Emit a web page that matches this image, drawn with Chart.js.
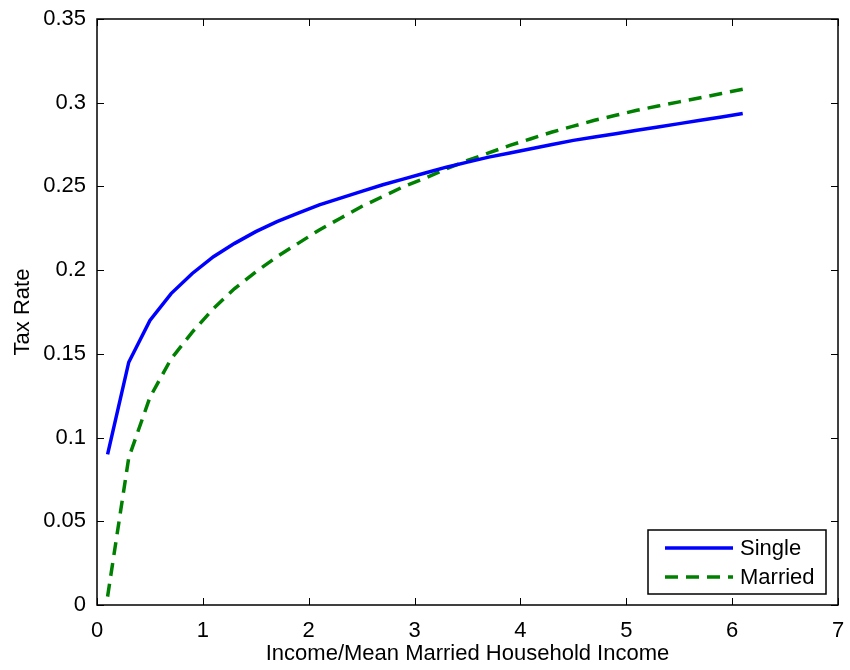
<!DOCTYPE html>
<html>
<head>
<meta charset="utf-8">
<title>Tax Rate</title>
<script src="https://cdn.jsdelivr.net/npm/chart.js@4/dist/chart.umd.min.js"></script>
<style>
  html, body { margin: 0; padding: 0; background: #fff; }
  #chart-canvas { display: block; }
</style>
</head>
<body>
<canvas id="chart-canvas" width="850" height="670"></canvas>
<script>
// income as a multiple of mean married household income
const incomeRatio = [0.1, 0.3, 0.5, 0.7, 0.9, 1.1, 1.3, 1.5, 1.7, 1.9, 2.1, 2.3, 2.5, 2.7, 2.9, 3.1,
  3.3, 3.5, 3.7, 3.9, 4.1, 4.3, 4.5, 4.7, 4.9, 5.1, 5.3, 5.5, 5.7, 5.9, 6.1]

const singleRate = [0.090, 0.145, 0.170, 0.186, 0.198, 0.208, 0.216, 0.223, 0.229, 0.234, 0.239,
  0.243, 0.247, 0.251, 0.2545, 0.258, 0.2615, 0.2645, 0.2675, 0.270, 0.2725, 0.275, 0.2775, 0.2795,
  0.2815, 0.2835, 0.2855, 0.2875, 0.2895, 0.2915, 0.2935]

const marriedRate = [0.005, 0.088, 0.124, 0.147, 0.163, 0.177, 0.189, 0.199, 0.208, 0.216, 0.224,
  0.231, 0.238, 0.244, 0.250, 0.255, 0.2605, 0.2655, 0.270, 0.2745, 0.2785, 0.2825, 0.286, 0.2895,
  0.2925, 0.2955, 0.298, 0.3005, 0.303, 0.3055, 0.308]

const xTicks = [0, 1, 2, 3, 4, 5, 6, 7]
const yTicks = [0, 0.05, 0.1, 0.15, 0.2, 0.25, 0.3, 0.35]

const seriesNames = ['Single', 'Married']

const FONT = 'Liberation Sans, Arial, Helvetica, sans-serif'

function toPoints(xs, ys) {
  return xs.map((x, i) => ({ x: x, y: ys[i] }))
}

// box round the axes plus inward ticks on all four sides
const axesBox = {
  id: 'axesBox',
  afterDatasetsDraw(chart) {
    const { ctx, chartArea: a, scales } = chart
    const len = 7
    ctx.save()
    ctx.strokeStyle = '#000'
    ctx.lineWidth = 1
    ctx.beginPath()
    xTicks.forEach(v => {
      const px = Math.round(scales.x.getPixelForValue(v)) + 0.5
      ctx.moveTo(px, a.bottom); ctx.lineTo(px, a.bottom - len)
      ctx.moveTo(px, a.top); ctx.lineTo(px, a.top + len)
    })
    yTicks.forEach(v => {
      const py = Math.round(scales.y.getPixelForValue(v)) + 0.5
      ctx.moveTo(a.left, py); ctx.lineTo(a.left + len, py)
      ctx.moveTo(a.right, py); ctx.lineTo(a.right - len, py)
    })
    ctx.stroke()
    ctx.lineWidth = 1.5
    ctx.strokeRect(a.left, a.top, a.right - a.left, a.bottom - a.top)
    ctx.restore()
  }
}

// legend box in the lower right corner, inside the axes
const boxLegend = {
  id: 'boxLegend',
  afterDraw(chart) {
    const { ctx, chartArea: a } = chart
    const w = 178, h = 64
    const x0 = a.right - 12 - w
    const y0 = a.bottom - 11 - h
    ctx.save()
    ctx.fillStyle = '#fff'
    ctx.fillRect(x0, y0, w, h)
    ctx.strokeStyle = '#000'
    ctx.lineWidth = 1.5
    ctx.strokeRect(x0, y0, w, h)
    ctx.font = '22px ' + FONT
    ctx.textBaseline = 'middle'
    chart.data.datasets.forEach((ds, i) => {
      const cy = y0 + 18 + i * 29
      ctx.strokeStyle = ds.borderColor
      ctx.lineWidth = ds.borderWidth
      ctx.setLineDash(ds.borderDash || [])
      ctx.beginPath()
      ctx.moveTo(x0 + 17, cy)
      ctx.lineTo(x0 + 85, cy)
      ctx.stroke()
      ctx.setLineDash([])
      ctx.fillStyle = '#000'
      ctx.fillText(ds.label, x0 + 92, cy + 1)
    })
    ctx.restore()
  }
}

const ctx = document.querySelector('#chart-canvas')
const taxChart = new Chart(ctx, {
  type: 'scatter',
  data: {
    datasets: [
      {
        label: seriesNames[0],
        data: toPoints(incomeRatio, singleRate),
        showLine: true,
        borderColor: '#0000ff',
        borderWidth: 3.5,
        pointRadius: 0,
        tension: 0
      },
      {
        label: seriesNames[1],
        data: toPoints(incomeRatio, marriedRate),
        showLine: true,
        borderColor: '#008000',
        borderWidth: 3.5,
        borderDash: [13, 8],
        pointRadius: 0,
        tension: 0
      }
    ]
  },
  options: {
    responsive: false,
    animation: false,
    layout: { padding: { top: 19, right: 12, left: 0, bottom: 0 } },
    plugins: {
      legend: { display: false },
      tooltip: { enabled: false }
    },
    scales: {
      x: {
        type: 'linear',
        min: 0,
        max: 7,
        afterBuildTicks: s => { s.ticks = xTicks.map(v => ({ value: v })) },
        afterFit: s => { s.height = 65; s.paddingLeft = 0; s.paddingRight = 0 },
        grid: { display: false, drawTicks: false },
        border: { display: false },
        ticks: {
          color: '#000',
          padding: 13,
          font: { family: FONT, size: 22 },
          maxRotation: 0,
          callback: v => String(v)
        },
        title: {
          display: true,
          text: 'Income/Mean Married Household Income',
          color: '#000',
          font: { family: FONT, size: 22 },
          padding: { top: 0, bottom: 3 }
        }
      },
      y: {
        type: 'linear',
        min: 0,
        max: 0.35,
        afterBuildTicks: s => { s.ticks = yTicks.map(v => ({ value: v })) },
        afterFit: s => { s.width = 97; s.paddingTop = 0; s.paddingBottom = 0 },
        grid: { display: false, drawTicks: false },
        border: { display: false },
        ticks: {
          color: '#000',
          padding: 11,
          font: { family: FONT, size: 22 },
          callback: v => String(+v.toFixed(2))
        },
        title: {
          display: true,
          text: 'Tax Rate',
          color: '#000',
          font: { family: FONT, size: 22 },
          padding: { top: 10, bottom: 0 }
        }
      }
    }
  },
  plugins: [axesBox, boxLegend]
})
</script>
</body>
</html>
